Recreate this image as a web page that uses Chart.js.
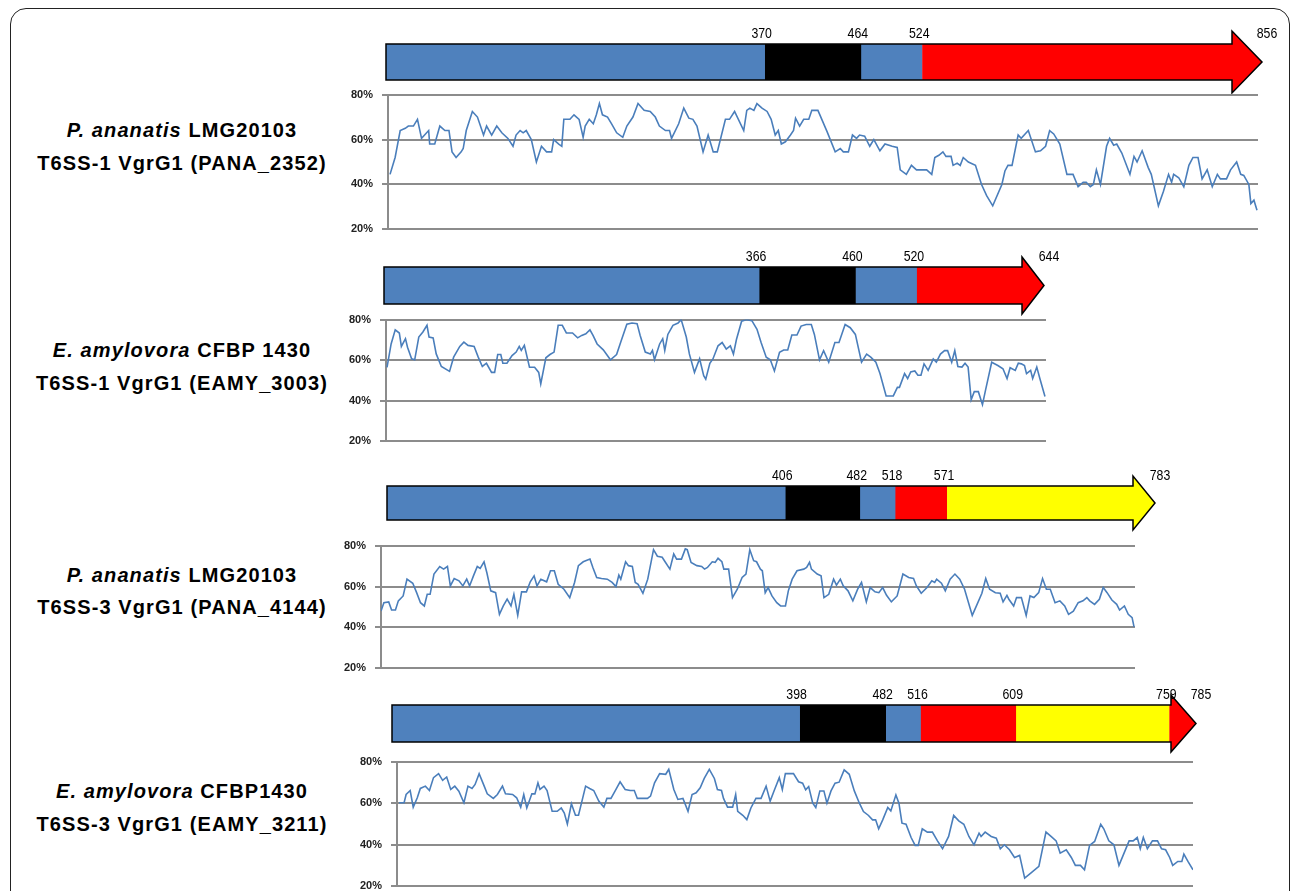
<!DOCTYPE html>
<html>
<head>
<meta charset="utf-8">
<script src="https://cdn.jsdelivr.net/npm/chart.js@4.4.1/dist/chart.umd.min.js"></script>
<style>
  body { margin: 0; background: #fff; width: 1293px; height: 891px; overflow: hidden; position: relative;
         font-family: "Liberation Sans", Arial, sans-serif; }
  #frame { position: absolute; left: 10px; top: 8px; width: 1278px; height: 940px;
           border: 1.5px solid #222; border-radius: 16px; }
  .name { position: absolute; left: 2px; width: 360px; text-align: center; font-weight: bold;
          font-size: 20px; letter-spacing: 1.1px; color: #000; line-height: 22px; white-space: nowrap; }
  canvas { position: absolute; }
</style>
</head>
<body>
<div id="frame"></div>

<div class="name" style="top:119px"><i>P. ananatis</i> LMG20103</div>
<div class="name" style="top:152px">T6SS-1 VgrG1 (PANA_2352)</div>
<div class="name" style="top:339px"><i>E. amylovora</i> CFBP 1430</div>
<div class="name" style="top:372px">T6SS-1 VgrG1 (EAMY_3003)</div>
<div class="name" style="top:564px"><i>P. ananatis</i> LMG20103</div>
<div class="name" style="top:596px">T6SS-3 VgrG1 (PANA_4144)</div>
<div class="name" style="top:780px"><i>E. amylovora</i> CFBP1430</div>
<div class="name" style="top:813px">T6SS-3 VgrG1 (EAMY_3211)</div>

<script>
// ---- domain boundaries (amino acid positions) ----
const domains1 = [0, 370, 464, 524, 856];
const domains2 = [0, 366, 460, 520, 644];
const domains3 = [0, 406, 482, 518, 571, 783];
const domains4 = [0, 398, 482, 516, 609, 759, 785];

const BLUE = '#4f81bd', BLACK = '#000000', RED = '#ff0000', YELLOW = '#ffff00';
const colors1 = [BLUE, BLACK, BLUE, RED];
const colors2 = [BLUE, BLACK, BLUE, RED];
const colors3 = [BLUE, BLACK, BLUE, RED, YELLOW];
const colors4 = [BLUE, BLACK, BLUE, RED, YELLOW, RED];

// ---- identity profiles (position, % identity) ----
const pos1 = [2,7,12,17,20,25,29,33,36,40,41,46,51,56,60,63,67,72,74,77,83,88,94,97,102,107,112,118,123,126,
  130,133,136,141,146,151,156,161,163,168,171,173,179,183,188,192,194,198,202,205,208,211,216,220,225,231,235,241,246,252,
  258,263,267,273,277,279,286,291,296,300,304,310,315,320,324,332,336,341,350,353,356,360,363,368,373,377,381,384,387,391,
  396,399,401,405,409,414,417,423,432,440,445,448,453,457,461,464,469,474,478,484,489,496,501,504,510,515,520,530,
  535,538,542,546,549,554,556,560,563,566,571,578,584,589,595,604,607,610,614,620,623,630,637,642,647,651,655,661,668,674,
  679,684,687,691,694,697,701,707,710,714,717,722,730,734,737,742,748,751,758,763,768,771,773,778,783,788,792,797,801,806,
  811,816,819,825,829,835,839,842,847,849,852,855];
const pct1 = [44.5,52,64,65,66,66,69,60.5,62,64,58,58,66,64,64,54.5,52,54.5,56,64,72.5,70,62,66,62,66,63,60.5,57,62,
  64,63,64,60,50,57,54.5,54.5,60,58,57,69,69,71,69,61,66,69,67,71,76,71,70,67,63,61,66,70,76,73,
  72.5,70,66,64,64,60.5,67,74,69.5,69,66,54.5,62,54.5,54.5,69,69,72.5,64,73,74,73,76,74,72.5,69,62,64,58,59,
  62,64,69.5,66,69,69,73,73,63.5,54.5,56,54.5,54.5,62,60.5,62,61.5,57,60,55,58,57,56.5,46.5,44.5,48.5,46.5,46.5,
  44.5,52,53,54.5,52.5,52.5,48.5,49.5,48.5,52,50,48.5,40,35,30.5,40,46,48.5,48.5,62,60.5,64,54.5,55,57,64,62.5,58,44.5,44.5,
  39,41,41,39,40,46.5,40,57,60.5,57.5,58,54,44.5,52.5,50,55,47.5,44.5,30.5,37,44.5,41,44.5,43,39,48.5,52,52,42.5,46.5,
  39,44.5,42.5,42.5,46.5,50,44.5,44,40,31.5,33,28.5];

const pos2 = [1,5,9,13,15,19,21,25,28,32,36,40,42,46,49,54,62,66,72,76,80,86,90,94,98,103,106,109,112,114,
  118,123,127,130,132,135,140,145,149,151,156,160,164,168,172,176,182,187,191,195,199,202,206,212,219,225,229,235,240,245,
  248,253,258,260,262,267,270,272,275,280,285,288,293,296,301,306,310,312,316,
  319,324,328,332,336,339,342,347,352,357,362,366,371,375,379,384,388,392,396,401,
  405,410,415,418,423,427,432,438,442,448,453,458,464,469,473,478,482,488,495,499,
  501,506,509,512,516,519,522,525,529,534,537,541,545,548,552,555,558,562,565,568,
  571,574,578,582,585,591,597,602,606,609,614,617,620,623,625,629,631,635,638,643];
const pct2 = [56.5,68,75,73.4,66.8,70.6,66.4,60.7,60.2,71.4,73.9,77.2,71.4,71,63.1,56.9,54.5,61.5,66.8,68.9,
  67.3,66.8,61.5,56.9,58.5,54,54,62.8,62.8,58.5,58.5,62.3,64,66.8,64.8,67.3,56.5,56.5,54,48.3,
  61.2,62.8,64,77.2,77.2,73.4,73.4,71,72.2,73,75,72.2,68,65.1,60.2,62.8,68.9,77.7,78.3,78,
  72.2,64,63.1,64.8,60.2,68,70.6,64.8,72.7,77.2,78.3,80,71.4,63.1,54,60.7,52.4,50.7,58.5,
  60.6,67.1,68.7,65.5,67.1,63,70.3,79.2,80,79.5,75.2,68.7,61.5,60.2,54.7,63.9,65,65,72.4,72.4,
  76.8,77.6,77.6,72.7,60.2,64.7,59,68.7,68.7,77.6,76,72.7,59,63,61.5,59,53.4,42.4,42.4,46.6,
  46.6,53.4,51,54.2,54.7,52.6,52.6,58.2,55,60.6,59,63,64.7,64.7,59,64.7,56.9,56.6,58.5,56.6,
  40.5,44.5,44.5,38.1,45.3,59,57.4,55.8,51,56.3,55,58.5,58.2,57.4,53.4,55,51,56.6,51,42.1];

const pos3 = [0,3,8,11,15,18,23,27,33,37,41,45,48,51,55,61,65,69,72,76,81,85,89,92,96,100,103,107,110,114,
  119,123,127,131,135,138,142,146,151,155,159,162,166,172,176,180,184,190,196,201,205,210,217,220,224,229,235,240,244,247,
  249,254,257,261,264,267,272,277,283,287,292,295,300,304,307,312,316,318,322,328,333,336,339,344,347,350,354,356,361,365,
  370,375,379,383,387,390,394,
  396,399,402,406,411,415,420,423,427,432,439,442,445,447,453,457,460,465,470,473,
  477,480,485,490,495,499,504,508,513,517,521,525,530,536,542,548,553,556,561,567,
  572,575,577,582,586,591,596,601,606,614,619,624,628,632,638,643,646,650,652,657,
  660,665,670,674,678,683,687,691,695,700,705,710,714,719,724,729,733,736,741,746,
  750,754,759,764,767,772,776,780,782];
const pct3 = [48,52.1,52.5,48.5,48.5,53,55.4,63.6,61.6,57,52.1,50.5,56.2,56.2,66.1,69.8,68.5,69.8,60.3,63.9,
  62.8,60.3,63.6,60.3,65.2,69.8,68.9,72.1,66.6,57.9,57,46.4,50.5,53.8,50.5,56.2,45.9,57.4,57.4,62.3,
  65.2,60.3,63.6,62.3,67.7,67.7,61.1,58.7,54.6,62,70.2,72.1,73.4,69.3,64.4,63.9,63.6,62,60,65.6,
  63.6,72.1,70.2,69.8,62,61.1,56.7,63.6,78,74.8,74.3,72.1,68.5,75.9,73.4,73.4,78.4,78,71.8,70.2,
  69.8,68.5,69.3,72.1,71.8,73.8,72.1,68.5,68.5,54.6,58.7,64.4,66.1,78,72.6,72.1,68.5,
  67.7,57,59.5,55.4,52.1,50.5,50.5,57.9,63.6,67.7,68.5,69.3,71.8,68.5,66.1,65.2,54.6,56.2,63.6,60.7,
  63.6,60.3,57.9,53,58.7,62,52.5,59.5,57.4,57,59.5,55.7,52.5,55.4,66.1,64.4,63.9,60.3,56.7,59.5,
  62.8,62,63.6,61.6,57.9,63.6,66.1,63.6,58.7,45.9,51.3,56.7,63.9,58.7,57,56.7,52.5,55.7,53.8,50.5,
  54.6,54.6,45.9,55.4,54.6,57,63.9,58.7,58.7,52.1,53,50.5,46.4,48,52.1,53,54.6,53,51.3,53.8,
  59.5,57,53.4,51.3,48.5,50.5,46.4,44.8,40.3];

const pos4 = [2,7,9,13,16,20,23,28,32,36,41,45,49,53,57,61,66,70,74,77,81,86,89,95,99,104,107,114,118,122,
  125,128,133,136,139,141,145,148,153,158,162,165,168,172,176,179,186,190,194,199,204,207,211,215,220,225,230,234,237,247,
  250,254,259,265,268,273,277,282,287,291,295,299,303,308,313,316,320,322,326,331,334,336,341,345,349,354,359,364,368,372,
  377,380,383,391,396,
  400,403,406,410,413,417,421,424,428,432,436,441,446,451,456,460,465,469,472,475,
  479,484,487,492,495,498,502,507,511,514,518,523,528,533,538,544,549,554,559,564,
  569,574,576,580,586,591,595,599,604,609,614,619,625,633,640,645,650,654,660,665,
  669,674,678,683,688,694,697,702,707,712,717,722,726,730,733,736,740,745,750,754,
  758,762,765,770,774,776,780,785];
const pct4 = [60.2,60.2,64.2,66.1,58.1,62.6,67.1,68.2,66.1,72.3,74.2,71,72.6,66.6,68.2,65.8,60.2,68.2,67.1,69,
  74.2,68.2,64.5,62.3,64.2,68.2,64.5,64.2,62.6,58.1,64.2,57.7,64.5,64.5,69.8,66.6,68.2,66.1,56.1,56.1,
  57.7,55.3,50,59.7,54.2,54.2,68.2,67.1,66.1,61,58.1,62.3,62.3,65.8,70.3,66.6,66.1,66.1,62.3,62.3,
  63.4,69.8,74.2,73.9,76.3,66.6,61.8,62.3,56.1,64.2,65,67.4,71.9,76.3,71.9,66.6,66.1,62.3,58.1,58.1,
  64.2,56.1,54.2,52.1,57.7,62.3,62.3,68.2,61,66.1,72.3,66.6,74.2,74.2,70.3,
  69.6,66.4,68,60,57.9,65.9,65.9,60,65.9,69.6,70.1,76,73.9,65.9,60,56,54.1,52,52,47.7,
  52,57.9,56.3,64,60,50.4,49.9,43.5,39.7,39.7,47.7,46.1,46.1,41.9,38.1,44,54.1,51.5,49.9,44,
  40,45.6,44,46.1,44,43.2,38.1,40,37.6,33.9,34.9,24,26.4,29.6,46.1,44,41.9,36,37.6,33.9,
  30.1,30.1,28,39.7,41.6,49.9,47.7,41.9,40,30.1,36,41.9,41.9,43.5,38.1,43.5,38.1,41.9,41.9,38.1,
  37.6,33.9,30.1,32,32,35.5,32,28];

const yTicks = [20, 40, 60, 80];

// layout of each panel on the page (pixels)
const panels = [
  { bounds: domains1, colors: colors1, pos: pos1, pct: pct1,
    barLeft: 386, tip: 1262, bodyTop: 44, bodyBot: 80, head: 30, wing: 13,
    axisX: 388, right: 1258, top: 94, bottom: 228 },
  { bounds: domains2, colors: colors2, pos: pos2, pct: pct2,
    barLeft: 384, tip: 1044, bodyTop: 267, bodyBot: 304, head: 22, wing: 10,
    axisX: 386, right: 1046, top: 319, bottom: 440 },
  { bounds: domains3, colors: colors3, pos: pos3, pct: pct3,
    barLeft: 387, tip: 1155, bodyTop: 486, bodyBot: 520, head: 22, wing: 10,
    axisX: 381, right: 1135, top: 545, bottom: 667 },
  { bounds: domains4, colors: colors4, pos: pos4, pct: pct4,
    barLeft: 392, tip: 1196, bodyTop: 705, bodyBot: 742, head: 25, wing: 10,
    axisX: 397, right: 1193, top: 761, bottom: 885 }
];

const FONT = '"Liberation Sans", Arial, sans-serif';

// draws the last domain as an arrow, the outline, and the position labels
const arrowPlugin = {
  id: 'arrow',
  afterDatasetsDraw(chart, args, o) {
    const ctx = chart.ctx, xs = chart.scales.x;
    const n = chart.data.datasets.length;
    const bar = chart.getDatasetMeta(n - 1).data[0];
    const top = bar.y - bar.height / 2, bot = bar.y + bar.height / 2, mid = bar.y;
    const b = o.bounds;
    const x0 = xs.getPixelForValue(b[0]);
    const start = xs.getPixelForValue(b[b.length - 2]);
    const tip = xs.getPixelForValue(b[b.length - 1]);
    const neck = Math.max(start, tip - o.head);

    ctx.save();
    ctx.beginPath();
    ctx.moveTo(start, top); ctx.lineTo(neck, top); ctx.lineTo(neck, top - o.wing);
    ctx.lineTo(tip, mid); ctx.lineTo(neck, bot + o.wing); ctx.lineTo(neck, bot); ctx.lineTo(start, bot);
    ctx.closePath();
    ctx.fillStyle = o.lastColor;
    ctx.fill();

    ctx.beginPath();
    ctx.moveTo(x0, top); ctx.lineTo(neck, top); ctx.lineTo(neck, top - o.wing);
    ctx.lineTo(tip, mid); ctx.lineTo(neck, bot + o.wing); ctx.lineTo(neck, bot); ctx.lineTo(x0, bot);
    ctx.closePath();
    ctx.strokeStyle = '#000';
    ctx.lineWidth = 1.5;
    ctx.stroke();

    // position numbers, condensed like the original
    ctx.fillStyle = '#000';
    ctx.font = '15px ' + FONT;
    ctx.textAlign = 'center';
    ctx.textBaseline = 'alphabetic';
    for (let i = 1; i < b.length; i++) {
      const px = xs.getPixelForValue(b[i]);
      const dx = i === b.length - 1 ? 5 : -3;
      ctx.save();
      ctx.translate(px + dx, top - 6);
      ctx.scale(0.82, 1);
      ctx.fillText(String(b[i]), 0, 0);
      ctx.restore();
    }
    ctx.restore();
  }
};

function addCanvas(left, top, w, h) {
  const c = document.createElement('canvas');
  c.width = w; c.height = h;
  c.style.left = left + 'px'; c.style.top = top + 'px';
  c.style.width = w + 'px'; c.style.height = h + 'px';
  document.body.appendChild(c);
  return c;
}

function makeBar(p) {
  const left = 360, right = 1290, padTop = 30, padBot = 18;
  const c = addCanvas(left, p.bodyTop - padTop, right - left, p.bodyBot - p.bodyTop + padTop + padBot);
  const last = p.colors.length - 1;
  new Chart(c, {
    type: 'bar',
    data: {
      labels: [''],
      datasets: p.colors.map((col, i) => ({
        data: [[p.bounds[i], p.bounds[i + 1]]],
        backgroundColor: i === last ? 'rgba(0,0,0,0)' : col,
        borderWidth: 0,
        grouped: false,
        barPercentage: 1,
        categoryPercentage: 1
      }))
    },
    options: {
      indexAxis: 'y',
      responsive: false,
      animation: false,
      events: [],
      layout: { padding: { left: p.barLeft - left, right: right - p.tip, top: padTop, bottom: padBot } },
      plugins: {
        legend: { display: false },
        tooltip: { enabled: false },
        arrow: { bounds: p.bounds, lastColor: p.colors[last], head: p.head, wing: p.wing }
      },
      scales: {
        x: { type: 'linear', min: p.bounds[0], max: p.bounds[p.bounds.length - 1], display: false },
        y: { display: false }
      }
    },
    plugins: [arrowPlugin]
  });
}

function makeLine(p) {
  const axisW = 48, pad = 8;
  // chart.js adds roughly 7px above and 9px below the padding for the tick labels
  const offTop = pad + 7, offBot = pad + 9;
  const left = p.axisX - axisW;
  const c = addCanvas(left, p.top - offTop, p.right - left + 4, p.bottom - p.top + offTop + offBot);
  new Chart(c, {
    type: 'line',
    data: {
      datasets: [{
        data: p.pos.map((x, i) => ({ x: x, y: p.pct[i] })),
        borderColor: '#4a7ebb',
        borderWidth: 1.6,
        pointRadius: 0,
        tension: 0,
        fill: false
      }]
    },
    options: {
      responsive: false,
      animation: false,
      events: [],
      layout: { padding: { left: 0, right: 4, top: pad, bottom: pad } },
      plugins: { legend: { display: false }, tooltip: { enabled: false } },
      scales: {
        x: { type: 'linear', min: 0, max: p.bounds[p.bounds.length - 1], display: false },
        y: {
          min: yTicks[0], max: yTicks[yTicks.length - 1],
          afterFit(s) { s.width = axisW; },
          afterBuildTicks(s) { s.ticks = yTicks.map(v => ({ value: v })); },
          ticks: {
            padding: 9,
            color: '#222',
            font: { family: FONT, size: 11, weight: 'bold' },
            callback: v => v + '%'
          },
          grid: { color: '#8c8c8c', lineWidth: 2, tickLength: 6 },
          border: { color: '#8c8c8c', width: 2 }
        }
      }
    }
  });
}

panels.forEach(p => { makeBar(p); makeLine(p); });
</script>
</body>
</html>
